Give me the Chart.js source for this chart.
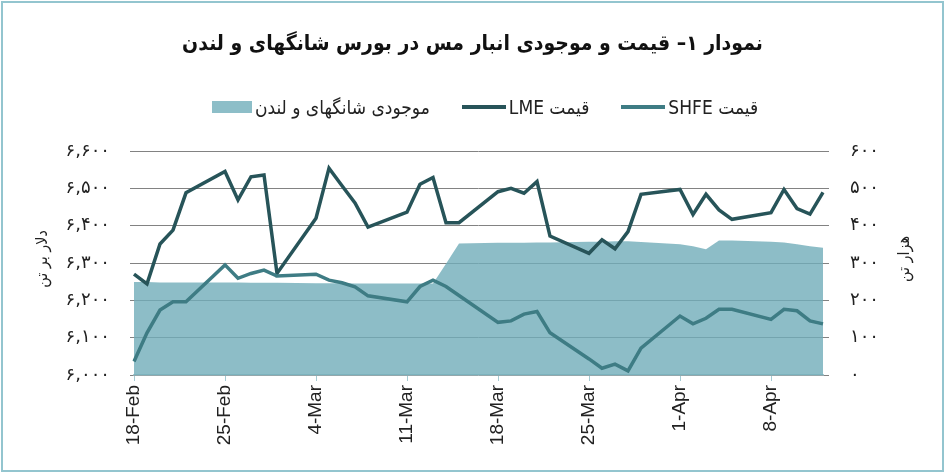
<!DOCTYPE html>
<html lang="fa">
<head>
<meta charset="utf-8">
<script src="https://cdn.jsdelivr.net/npm/chart.js@4.4.1/dist/chart.umd.min.js"></script>
<style>
  html, body { margin: 0; padding: 0; background: #fff; }
  #wrap { position: relative; width: 945px; height: 473px; overflow: hidden; }
  #frame { position: absolute; left: 1px; top: 1px; right: 1px; bottom: 1px;
           border: 2px solid #93c5cf; pointer-events: none; }
  #title { position: absolute; left: 0; width: 945px; top: 31px; text-align: center;
           direction: rtl; font-family: "DejaVu Sans Condensed", "DejaVu Sans", sans-serif;
           font-weight: bold; font-size: 21px; color: #111; }
  #legend { position: absolute; left: 0; width: 970px; top: 96px; display: flex;
            justify-content: center; direction: rtl; gap: 32px;
            font-family: "DejaVu Sans Condensed", "DejaVu Sans", sans-serif; font-size: 19px; color: #222; }
  .item { display: flex; align-items: center; gap: 3px; }
  .line { width: 44px; height: 4px; }
  .box { width: 40px; height: 12px; }
</style>
</head>
<body>
<div id="wrap">
  <canvas id="copperChart"></canvas>
  <div id="title">نمودار ۱– قیمت و موجودی انبار مس در بورس شانگهای و لندن</div>
  <div id="legend"></div>
  <div id="frame"></div>
</div>
<script>
"use strict";

// calendar days on the x axis (weekends have no quotes)
var days = [
    '18-Feb', '19-Feb', '20-Feb', '21-Feb', '22-Feb', '23-Feb', '24-Feb',
    '25-Feb', '26-Feb', '27-Feb', '28-Feb', '1-Mar', '2-Mar', '3-Mar',
    '4-Mar', '5-Mar', '6-Mar', '7-Mar', '8-Mar', '9-Mar', '10-Mar',
    '11-Mar', '12-Mar', '13-Mar', '14-Mar', '15-Mar', '16-Mar', '17-Mar',
    '18-Mar', '19-Mar', '20-Mar', '21-Mar', '22-Mar', '23-Mar', '24-Mar',
    '25-Mar', '26-Mar', '27-Mar', '28-Mar', '29-Mar', '30-Mar', '31-Mar',
    '1-Apr', '2-Apr', '3-Apr', '4-Apr', '5-Apr', '6-Apr', '7-Apr',
    '8-Apr', '9-Apr', '10-Apr', '11-Apr', '12-Apr'
];

// LME price, $/t
var lmePrice = [
    6270, 6244, 6351, 6388, 6488, null, null,
    6545, 6469, 6531, 6536, 6272, null, null,
    6420, 6554, 6507, 6461, 6396, null, null,
    6436, 6511, 6529, 6408, 6408, null, null,
    6491, 6500, 6487, 6518, 6372, null, null,
    6326, 6362, 6338, 6384, 6484, null, null,
    6497, 6430, 6484, 6442, 6417, null, null,
    6435, 6497, 6446, 6431, 6489
];

// SHFE price, $/t
var shfePrice = [
    6036, 6113, 6174, 6196, 6196, null, null,
    6295, 6259, 6272, 6281, 6265, null, null,
    6270, 6254, 6247, 6236, 6212, null, null,
    6196, 6237, 6254, 6237, 6213, null, null,
    6141, 6145, 6163, 6170, 6113, null, null,
    6043, 6018, 6029, 6011, 6072, null, null,
    6158, 6137, 6152, 6176, 6176, null, null,
    6149, 6176, 6172, 6145, 6137
];

// Shanghai + London stocks, thousand t
var stocks = [
    249, 249, 248, 248, 248, null, null,
    248, 248, 247, 247, 247, null, null,
    246, 246, 246, 245, 245, null, null,
    245, 245, 245, 298, 352, null, null,
    354, 354, 354, 355, 355, null, null,
    357, 357, 358, 358, 356, null, null,
    350, 345, 337, 360, 360, null, null,
    357, 355, 350, 345, 341
];

var legendLabels = ['قیمت SHFE', 'قیمت LME', 'موجودی شانگهای و لندن'];
var leftTitle = 'دلار بر تن';
var rightTitle = 'هزار تن';

var faDigits = '۰۱۲۳۴۵۶۷۸۹';

function toFa(n) {
    var s = String(n);
    if (n >= 1000) {
        s = s.slice(0, s.length - 3) + ',' + s.slice(s.length - 3);
    }
    return s.replace(/[0-9]/g, function (d) { return faDigits[+d]; });
}

var colors = {
    shfe: 'rgb(62, 124, 132)',
    lme: 'rgb(39, 84, 89)',
    stockFill: 'rgba(112, 172, 185, 0.8)',
    stockSwatch: 'rgb(141, 190, 200)',
    grid: 'rgb(130, 130, 130)',
    axis: 'rgb(165, 203, 211)'
};

// legend built as html so it reads right to left like the original
(function () {
    var legend = document.getElementById('legend');
    var swatches = [
        ['line', colors.shfe], ['line', colors.lme], ['box', colors.stockSwatch]
    ];
    legendLabels.forEach(function (label, i) {
        var item = document.createElement('div');
        item.className = 'item';
        var text = document.createElement('span');
        text.textContent = label;
        var sw = document.createElement('span');
        sw.className = swatches[i][0];
        sw.style.background = swatches[i][1];
        item.appendChild(text);
        item.appendChild(sw);
        legend.appendChild(item);
    });
})();

// both axis titles read bottom to top
var axisTitles = {
    id: 'axisTitles',
    afterDraw: function (chart) {
        var ctx = chart.ctx;
        var area = chart.chartArea;
        var midY = (area.top + area.bottom) / 2;
        ctx.save();
        ctx.font = '16px "DejaVu Sans Condensed", "DejaVu Sans", sans-serif';
        ctx.fillStyle = '#222';
        ctx.textAlign = 'center';
        ctx.textBaseline = 'middle';
        [[43, leftTitle], [905, rightTitle]].forEach(function (t) {
            ctx.save();
            ctx.translate(t[0], midY - 4);
            ctx.rotate(-Math.PI / 2);
            ctx.fillText(t[1], 0, 0);
            ctx.restore();
        });
        ctx.restore();
    }
};

var tickFont = { family: '"DejaVu Sans", sans-serif', size: 18 };

new Chart(document.getElementById('copperChart'), {
    type: 'line',
    data: {
        labels: days,
        datasets: [{
            label: legendLabels[0],
            data: shfePrice,
            yAxisID: 'y',
            borderColor: colors.shfe,
            borderWidth: 3.5,
            pointRadius: 0,
            spanGaps: true,
            fill: false
        }, {
            label: legendLabels[1],
            data: lmePrice,
            yAxisID: 'y',
            borderColor: colors.lme,
            borderWidth: 3.5,
            pointRadius: 0,
            spanGaps: true,
            fill: false
        }, {
            label: legendLabels[2],
            data: stocks,
            yAxisID: 'y1',
            borderWidth: 0,
            borderColor: 'transparent',
            backgroundColor: colors.stockFill,
            pointRadius: 0,
            spanGaps: true,
            fill: 'origin'
        }]
    },
    options: {
        responsive: true,
        maintainAspectRatio: false,
        animation: false,
        events: [],
        layout: { padding: { top: 151, left: 0, right: 0, bottom: 0 } },
        plugins: {
            legend: { display: false },
            title: { display: false },
            tooltip: { enabled: false }
        },
        scales: {
            x: {
                offset: false,
                afterFit: function (scale) { scale.height = 98; },
                grid: {
                    drawOnChartArea: false,
                    tickLength: 6,
                    color: function (c) { return c.index % 7 === 0 ? colors.axis : 'transparent'; }
                },
                border: { display: true, color: colors.axis, width: 1.5 },
                ticks: {
                    autoSkip: false,
                    minRotation: 90,
                    maxRotation: 90,
                    padding: 4,
                    color: '#222',
                    font: { family: '"Liberation Sans Narrow", "Liberation Sans", sans-serif', size: 19 },
                    callback: function (v, i) { return i % 7 === 0 ? days[i] : ''; }
                }
            },
            y: {
                position: 'left',
                min: 6000,
                max: 6600,
                afterFit: function (scale) { scale.width = 134; },
                grid: { color: colors.grid, lineWidth: 1, tickLength: 4 },
                border: { display: false },
                ticks: {
                    stepSize: 100,
                    padding: 20,
                    color: '#222',
                    font: tickFont,
                    callback: function (v) { return toFa(v); }
                }
            },
            y1: {
                position: 'right',
                min: 0,
                max: 600,
                afterFit: function (scale) { scale.width = 122; },
                grid: { drawOnChartArea: false, color: colors.grid, tickLength: 6 },
                border: { display: false },
                ticks: {
                    stepSize: 100,
                    padding: 21,
                    color: '#222',
                    font: tickFont,
                    callback: function (v) { return toFa(v); }
                }
            }
        }
    },
    plugins: [axisTitles]
});
</script>
</body>
</html>
